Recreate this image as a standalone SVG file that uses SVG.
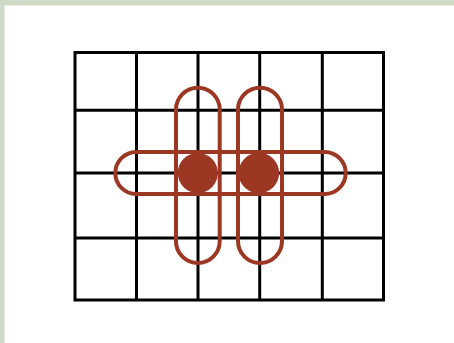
<svg xmlns="http://www.w3.org/2000/svg" width="454" height="343" viewBox="0 0 454 343">
  <style>
    .grid { stroke: #000; stroke-width: 3; fill: none; }
    .loop { stroke: #9b3722; stroke-width: 4; fill: none; }
    .dot { fill: #9b3722; }
  </style>
  <rect x="0" y="0" width="454" height="343" fill="#cfdac6"/>
  <rect x="4.5" y="5.5" width="449.5" height="337.5" fill="#fff"/>
  <g id="grid" class="grid">
    <rect x="75" y="52.5" width="308.5" height="247.5"/>
    <line x1="136.5" y1="52.5" x2="136.5" y2="300"/>
    <line x1="198" y1="52.5" x2="198" y2="300"/>
    <line x1="259.7" y1="52.5" x2="259.7" y2="300"/>
    <line x1="322.3" y1="52.5" x2="322.3" y2="300"/>
    <line x1="75" y1="110.3" x2="383.5" y2="110.3"/>
    <line x1="75" y1="173" x2="383.5" y2="173"/>
    <line x1="75" y1="238" x2="383.5" y2="238"/>
  </g>
  <g id="connectors">
    <rect id="loop-h" class="loop" x="115.3" y="152" width="230.4" height="42" rx="21"/>
    <rect id="loop-v1" class="loop" x="176" y="87.7" width="43.7" height="175.3" rx="21.85"/>
    <rect id="loop-v2" class="loop" x="238" y="87.7" width="44" height="175.3" rx="22"/>
  </g>
  <g id="node1"><circle class="dot" cx="197.8" cy="173" r="20"/></g>
  <g id="node2"><circle class="dot" cx="258.8" cy="173" r="20.3"/></g>
</svg>
